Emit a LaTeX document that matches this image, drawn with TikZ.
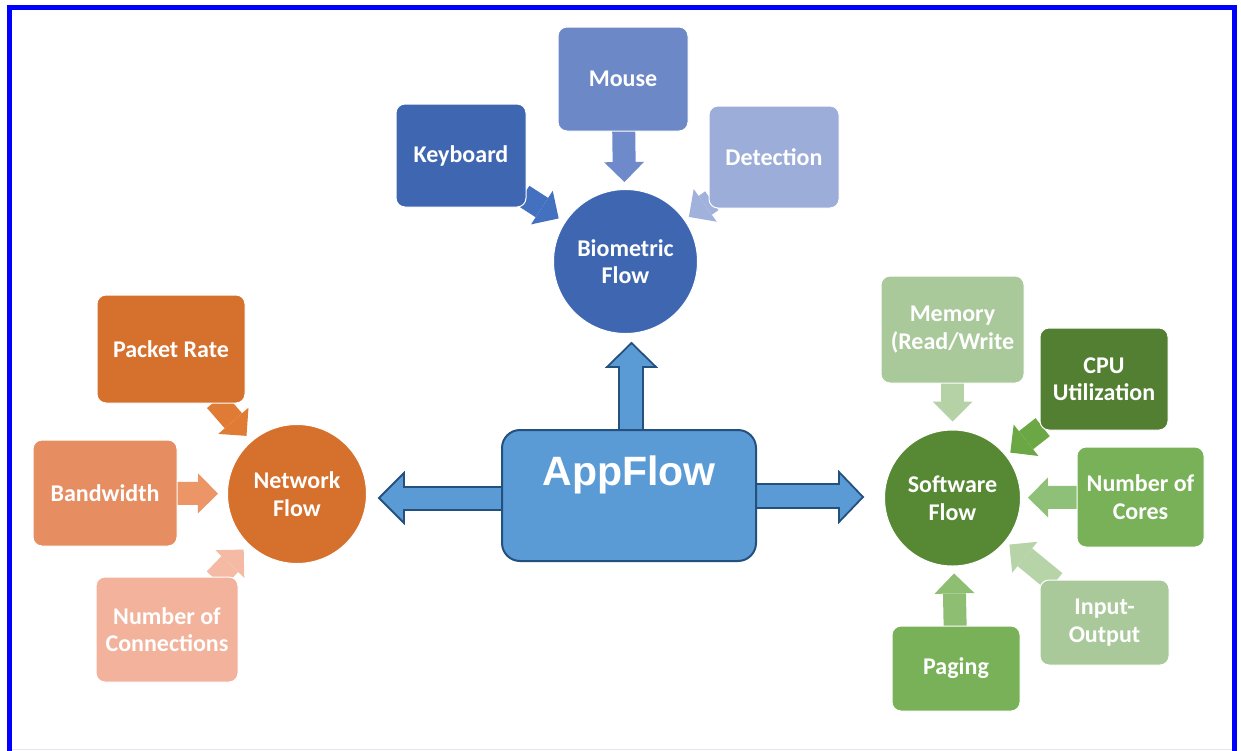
\documentclass[tikz,border=0pt]{standalone}
\usepackage{fontspec}
\setmainfont{Carlito}
\newfontfamily\appfont{Liberation Sans}
\usetikzlibrary{arrows.meta}
\usetikzlibrary{backgrounds}

\definecolor{framec}{HTML}{0000FF}
\definecolor{edgec}{HTML}{E4E4F5}
\definecolor{appfill}{HTML}{5B9BD5}
\definecolor{appline}{HTML}{24507E}
\definecolor{biodark}{HTML}{3F67B1}
\definecolor{biomid}{HTML}{6C88C6}
\definecolor{biolight}{HTML}{9CADD9}
\definecolor{netdark}{HTML}{D6702D}
\definecolor{netmid}{HTML}{E78D62}
\definecolor{netlight}{HTML}{F2B29B}
\definecolor{swdark}{HTML}{578935}
\definecolor{swdeep}{HTML}{527F32}
\definecolor{swmid}{HTML}{79B159}
\definecolor{swlight}{HTML}{A9C99B}
% arrow colours
\definecolor{kbarr}{HTML}{4370BF}
\definecolor{mousearr}{HTML}{6F8ACB}
\definecolor{detarr}{HTML}{A0B1DC}
\definecolor{pktarr}{HTML}{E07B35}
\definecolor{bwarr}{HTML}{EC9667}
\definecolor{connarr}{HTML}{F4BAA3}
\definecolor{memarr}{HTML}{B5D2A6}
\definecolor{cpuarr}{HTML}{6BA845}
\definecolor{corearr}{HTML}{8FC077}
\definecolor{ioarr}{HTML}{B7D4A9}
\definecolor{pagearr}{HTML}{8DBE72}

\tikzset{
  box/.style={rectangle, rounded corners=9pt, draw=white, line width=1pt, text=white,
    align=center, inner sep=2pt, font=\bfseries\fontsize{24}{27.5}\selectfont},
  hub/.style={circle, draw=white, line width=1pt, text=white, align=center,
    inner sep=0pt, font=\bfseries\fontsize{24}{27.5}\selectfont},
  feed/.style={line width=23pt, -{Triangle[width=40pt,length=20pt,line width=0pt]},
    shorten <=-4pt, shorten >=7pt},
  outarrow/.style={fill=appfill, draw=appline, line width=1.8pt, line join=miter},
}

\begin{document}
\begin{tikzpicture}[x=1pt,y=-1pt]
\useasboundingbox (0,0) rectangle (1241,750);
\clip (0,0) rectangle (1241,750);

% biometric side
\node[hub, fill=biodark, minimum size=144pt] (bio) at (625.5,261.5) {Biometric\\Flow};
\node[box, fill=biodark, minimum width=130pt, minimum height=103pt] (kb) at (461,155.5) {Keyboard};
\node[box, fill=biomid, minimum width=130pt, minimum height=104pt] (mouse) at (623,79) {Mouse};
\node[box, fill=biolight, minimum width=130pt, minimum height=102pt] (det) at (774,157) {Detection};

% network side
\node[hub, fill=netdark, minimum size=139pt] (net) at (297,494) {Network\\Flow};
\node[box, fill=netdark, minimum width=148pt, minimum height=108pt] (pkt) at (171,349) {Packet Rate};
\node[box, fill=netmid, minimum width=144pt, minimum height=106pt] (bw) at (105,493) {Bandwidth};
\node[box, fill=netlight, minimum width=142pt, minimum height=105pt] (conn) at (167,629.5) {Number of\\Connections};

% software side
\node[hub, fill=swdark, minimum size=136pt] (soft) at (952.5,498) {Software\\Flow};
\node[box, fill=swlight, minimum width=143pt, minimum height=107pt] (mem) at (952.5,329.5) {Memory\\(Read/Write};
\node[box, fill=swdeep, minimum width=128pt, minimum height=102pt] (cpu) at (1104,379) {CPU\\Utilization};
\node[box, fill=swmid, minimum width=127pt, minimum height=100pt] (cores) at (1140.5,497) {Number of\\Cores};
\node[box, fill=swlight, minimum width=129pt, minimum height=85pt] (io) at (1104.5,622.5) {Input-\\Output};
\node[box, fill=swmid, minimum width=128pt, minimum height=85pt] (paging) at (956,668.5) {Paging};

% centre box
\node[rectangle, rounded corners=18pt, fill=appfill, draw=appline, line width=2pt,
  minimum width=254pt, minimum height=131pt, text=white, text height=30pt, text depth=51pt,
  font=\appfont\bfseries\fontsize{41}{45}\selectfont] (app) at (629,495.5) {AppFlow};

\begin{pgfonlayer}{background}
\fill[white] (0,0) rectangle (1241,750);
% feeding arrows
\draw[feed, kbarr] (kb) -- (bio);
\draw[feed, mousearr] (mouse) -- (bio);
\draw[feed, detarr, shorten >=5pt] (det) -- (bio);
\draw[feed, pktarr] (pkt) -- (net);
\draw[feed, bwarr, shorten >=9pt] (bw) -- (net);
\draw[feed, connarr] (conn) -- (net);
\draw[feed, memarr, shorten >=8pt] (mem) -- (soft);
\draw[feed, cpuarr, shorten >=5pt] (cpu) -- (soft);
\draw[feed, corearr] (cores) -- (soft);
\draw[feed, ioarr, shorten >=5pt] (io) -- (soft);
\draw[feed, pagearr] (paging) -- (soft);
% arrows out of the centre box
\draw[outarrow] (app.north) ++(-10,5) -- ++(0,-67) -- ++(-12,0) -- ++(24.5,-24)
  -- ++(24.5,24) -- ++(-13,0) -- ++(0,67) -- cycle;
\draw[outarrow] (app.west) ++(5,-8.5) -- ++(-102,0) -- ++(0,-14) -- ++(-25,25)
  -- ++(25,25) -- ++(0,-13) -- ++(102,0) -- cycle;
\draw[outarrow] (app.east) ++(-5,-11.5) -- ++(87,0) -- ++(0,-12) -- ++(24,25)
  -- ++(-24,25) -- ++(0,-14) -- ++(-87,0) -- cycle;
\end{pgfonlayer}

% frame
\draw[framec, line width=5pt] (9,7.5) rectangle (1234.5,770);
\draw[edgec, line width=1pt] (11.5,749) -- (1232,749);
\end{tikzpicture}
\end{document}
